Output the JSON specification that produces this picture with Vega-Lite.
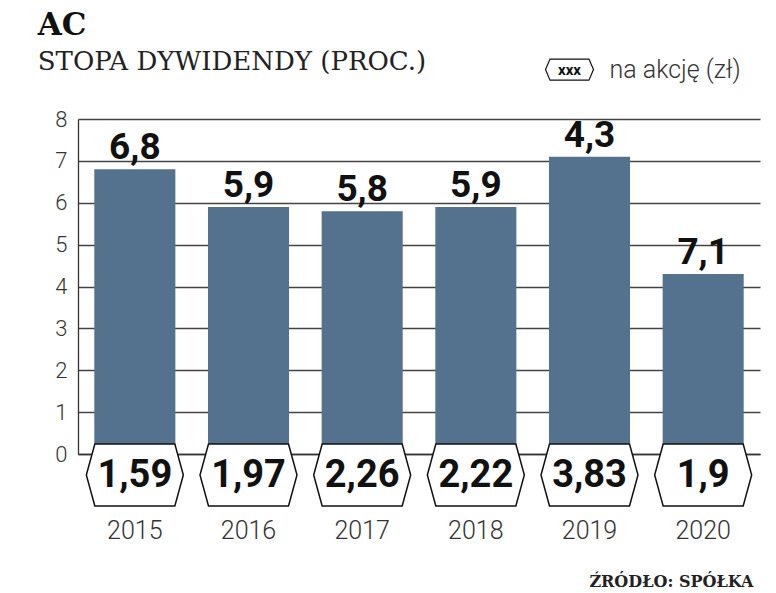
{
  "$schema": "https://vega.github.io/schema/vega-lite/v6.json",
  "autosize": "none",
  "width": 682,
  "height": 335,
  "padding": {"left": 78, "top": 119, "right": 16, "bottom": 139},
  "background": "white",
  "title": {
    "text": "AC",
    "subtitle": "STOPA DYWIDENDY (PROC.)",
    "anchor": "start",
    "frame": "bounds",
    "dx": -17,
    "offset": -19,
    "font": "DejaVu Serif",
    "fontSize": 31,
    "fontWeight": "bold",
    "color": "#111",
    "subtitleFont": "DejaVu Serif",
    "subtitleFontSize": 26,
    "subtitleColor": "#222",
    "subtitlePadding": 7
  },
  "data": {
    "values": [
      {"year": "2015", "rate": 6.8, "rateLabel": "6,8", "dps": "1,59"},
      {"year": "2016", "rate": 5.9, "rateLabel": "5,9", "dps": "1,97"},
      {"year": "2017", "rate": 5.8, "rateLabel": "5,8", "dps": "2,26"},
      {"year": "2018", "rate": 5.9, "rateLabel": "5,9", "dps": "2,22"},
      {"year": "2019", "rate": 7.1, "rateLabel": "4,3", "dps": "3,83"},
      {"year": "2020", "rate": 4.3, "rateLabel": "7,1", "dps": "1,9"}
    ]
  },
  "encoding": {
    "x": {
      "field": "year",
      "type": "nominal",
      "sort": null,
      "scale": {"paddingInner": 0.287, "paddingOuter": 0.1435},
      "axis": {
        "title": "ŹRÓDŁO: SPÓŁKA",
        "titleFont": "DejaVu Serif",
        "titleFontSize": 16,
        "titleFontWeight": "bold",
        "titleColor": "#222",
        "titleAnchor": "end",
        "titleAlign": "right",
        "titleBaseline": "alphabetic",
        "titleX": 675,
        "titleY": 132,
        "labelAngle": 0,
        "labelFont": "Roboto",
        "labelFontSize": 25,
        "labelFontWeight": 300,
        "labelColor": "#333",
        "labelPadding": 64,
        "ticks": false,
        "domain": true,
        "domainColor": "#333",
        "domainWidth": 1.3,
        "grid": false
      }
    }
  },
  "layer": [
    {
      "mark": {"type": "bar", "color": "#54718d"},
      "encoding": {
        "y": {
          "field": "rate",
          "type": "quantitative",
          "scale": {"domain": [0, 8], "nice": false},
          "axis": {
            "title": null,
            "values": [0, 1, 2, 3, 4, 5, 6, 7, 8],
            "labelFont": "Roboto",
            "labelFontSize": 22,
            "labelFontWeight": 300,
            "labelColor": "#333",
            "labelPadding": 11,
            "ticks": false,
            "domain": true,
            "domainColor": "#333",
            "domainWidth": 1.3,
            "grid": true,
            "gridColor": "#444",
            "gridWidth": 1.3
          }
        }
      }
    },
    {
      "mark": {
        "type": "text",
        "baseline": "alphabetic",
        "dy": -10,
        "font": "Roboto",
        "fontSize": 37,
        "fontWeight": "bold",
        "color": "#111"
      },
      "encoding": {
        "y": {"field": "rate", "type": "quantitative"},
        "text": {"field": "rateLabel"}
      }
    },
    {
      "mark": {
        "type": "point",
        "shape": "M -1 0 L -0.825 -0.64 L 0.825 -0.64 L 1 0 L 0.825 0.64 L -0.825 0.64 Z",
        "size": 9409,
        "filled": true,
        "fill": "white",
        "stroke": "#111",
        "strokeWidth": 1.5,
        "opacity": 1,
        "yOffset": 21
      },
      "encoding": {
        "y": {"datum": 0, "type": "quantitative"}
      }
    },
    {
      "mark": {
        "type": "text",
        "baseline": "middle",
        "yOffset": 22,
        "font": "Roboto",
        "fontSize": 38,
        "fontWeight": "bold",
        "color": "#111"
      },
      "encoding": {
        "y": {"datum": 0, "type": "quantitative"},
        "text": {"field": "dps"}
      }
    },
    {
      "data": {"values": [{"year": "2019", "sym": "xxx", "label": "na akcję (zł)"}]},
      "layer": [
        {
          "mark": {
            "type": "point",
            "shape": "M -1 0 L -0.81 -0.44 L 0.81 -0.44 L 1 0 L 0.81 0.44 L -0.81 0.44 Z",
            "size": 2304,
            "filled": true,
            "fill": "white",
            "stroke": "#111",
            "strokeWidth": 1.2,
            "opacity": 1,
            "xOffset": -20
          },
          "encoding": {"y": {"datum": 9.18, "type": "quantitative"}}
        },
        {
          "mark": {
            "type": "text",
            "baseline": "middle",
            "xOffset": -20,
            "font": "Roboto",
            "fontSize": 15,
            "fontWeight": "bold",
            "color": "#111"
          },
          "encoding": {
            "y": {"datum": 9.18, "type": "quantitative"},
            "text": {"field": "sym"}
          }
        },
        {
          "mark": {
            "type": "text",
            "baseline": "middle",
            "align": "left",
            "xOffset": 20,
            "font": "Roboto",
            "fontSize": 25,
            "fontWeight": 300,
            "color": "#333"
          },
          "encoding": {
            "y": {"datum": 9.18, "type": "quantitative"},
            "text": {"field": "label"}
          }
        }
      ]
    }
  ],
  "config": {
    "view": {"stroke": null}
  }
}
